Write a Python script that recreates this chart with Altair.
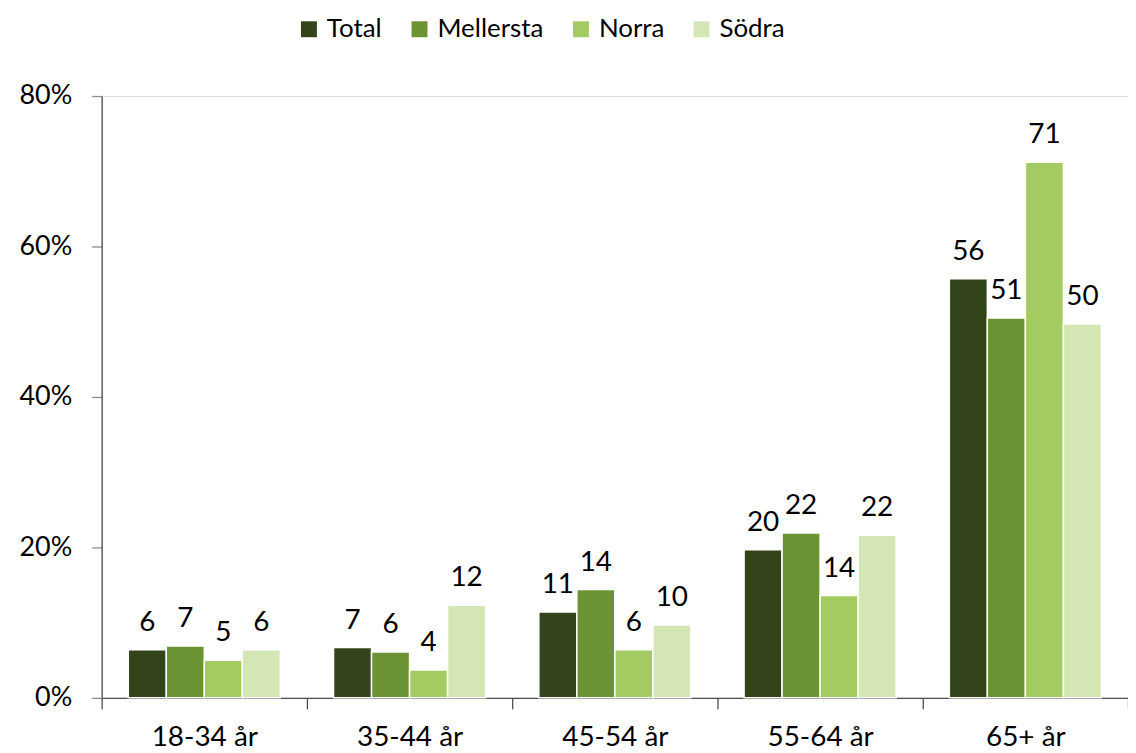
import altair as alt
import pandas as pd

groups = ["18-34 år", "35-44 år", "45-54 år", "55-64 år", "65+ år"]
series = ["Total", "Mellersta", "Norra", "Södra"]
colors = ["#34441a", "#6b9333", "#a3cb62", "#d3e6b3"]
values = {
    "Total":     [6.4, 6.7, 11.4, 19.7, 55.7],
    "Mellersta": [6.9, 6.1, 14.4, 21.9, 50.5],
    "Norra":     [5.0, 3.7, 6.4, 13.6, 71.2],
    "Södra":     [6.4, 12.3, 9.7, 21.6, 49.7],
}

rows = []
for s in series:
    for g, v in zip(groups, values[s]):
        rows.append({"group": g, "series": s, "value": v / 100.0, "pct": v})
df = pd.DataFrame(rows)

FONT = "Lato"

base = alt.Chart(df).encode(
    x=alt.X("group:N", sort=groups, title=None,
            scale=alt.Scale(paddingInner=0, paddingOuter=0),
            axis=alt.Axis(labelAngle=0, tickBand="extent", tickSize=11,
                          labelPadding=15, labelFontSize=28, labelFont=FONT,
                          labelColor="#000000", domainColor="#4d4d4d",
                          tickColor="#4d4d4d", domainWidth=1.3, tickWidth=1.3)),
    xOffset=alt.XOffset("series:N", sort=series,
                        scale=alt.Scale(paddingInner=0, paddingOuter=0.7)),
)

bars = base.mark_bar(stroke="white", strokeWidth=1.5).encode(
    y=alt.Y("value:Q", title=None,
            scale=alt.Scale(domain=[0, 0.8], nice=False),
            axis=alt.Axis(values=[0, 0.2, 0.4, 0.6, 0.8], format=".0%",
                          grid=False, tickSize=10, labelPadding=20,
                          labelFontSize=27, labelFont=FONT, labelColor="#000000",
                          domainColor="#4d4d4d", tickColor="#8c8c8c",
                          domainWidth=1.3, tickWidth=1.3)),
    color=alt.Color("series:N", sort=series,
                    scale=alt.Scale(domain=series, range=colors),
                    legend=alt.Legend(title=None, orient="none", direction="horizontal",
                                      legendX=195, legendY=-80,
                                      symbolType="square", symbolSize=256,
                                      symbolStrokeWidth=0, labelFontSize=26,
                                      labelFont=FONT, labelColor="#000000",
                                      columnPadding=24, labelOffset=5, padding=0)),
)

labels = base.mark_text(dy=-19, baseline="alphabetic", fontSize=28, font=FONT,
                        color="#000000").encode(
    y=alt.Y("value:Q"),
    text=alt.Text("pct:Q", format=".0f"),
)

chart = alt.layer(bars, labels).properties(
    width=1030, height=604,
    autosize=alt.AutoSizeParams(type="none"),
    padding={"left": 94, "top": 87, "right": 0, "bottom": 56},
).configure_view(stroke=None).configure(font=FONT)

chart.save("out.html", embed_options={"renderer": "svg", "actions": False})
